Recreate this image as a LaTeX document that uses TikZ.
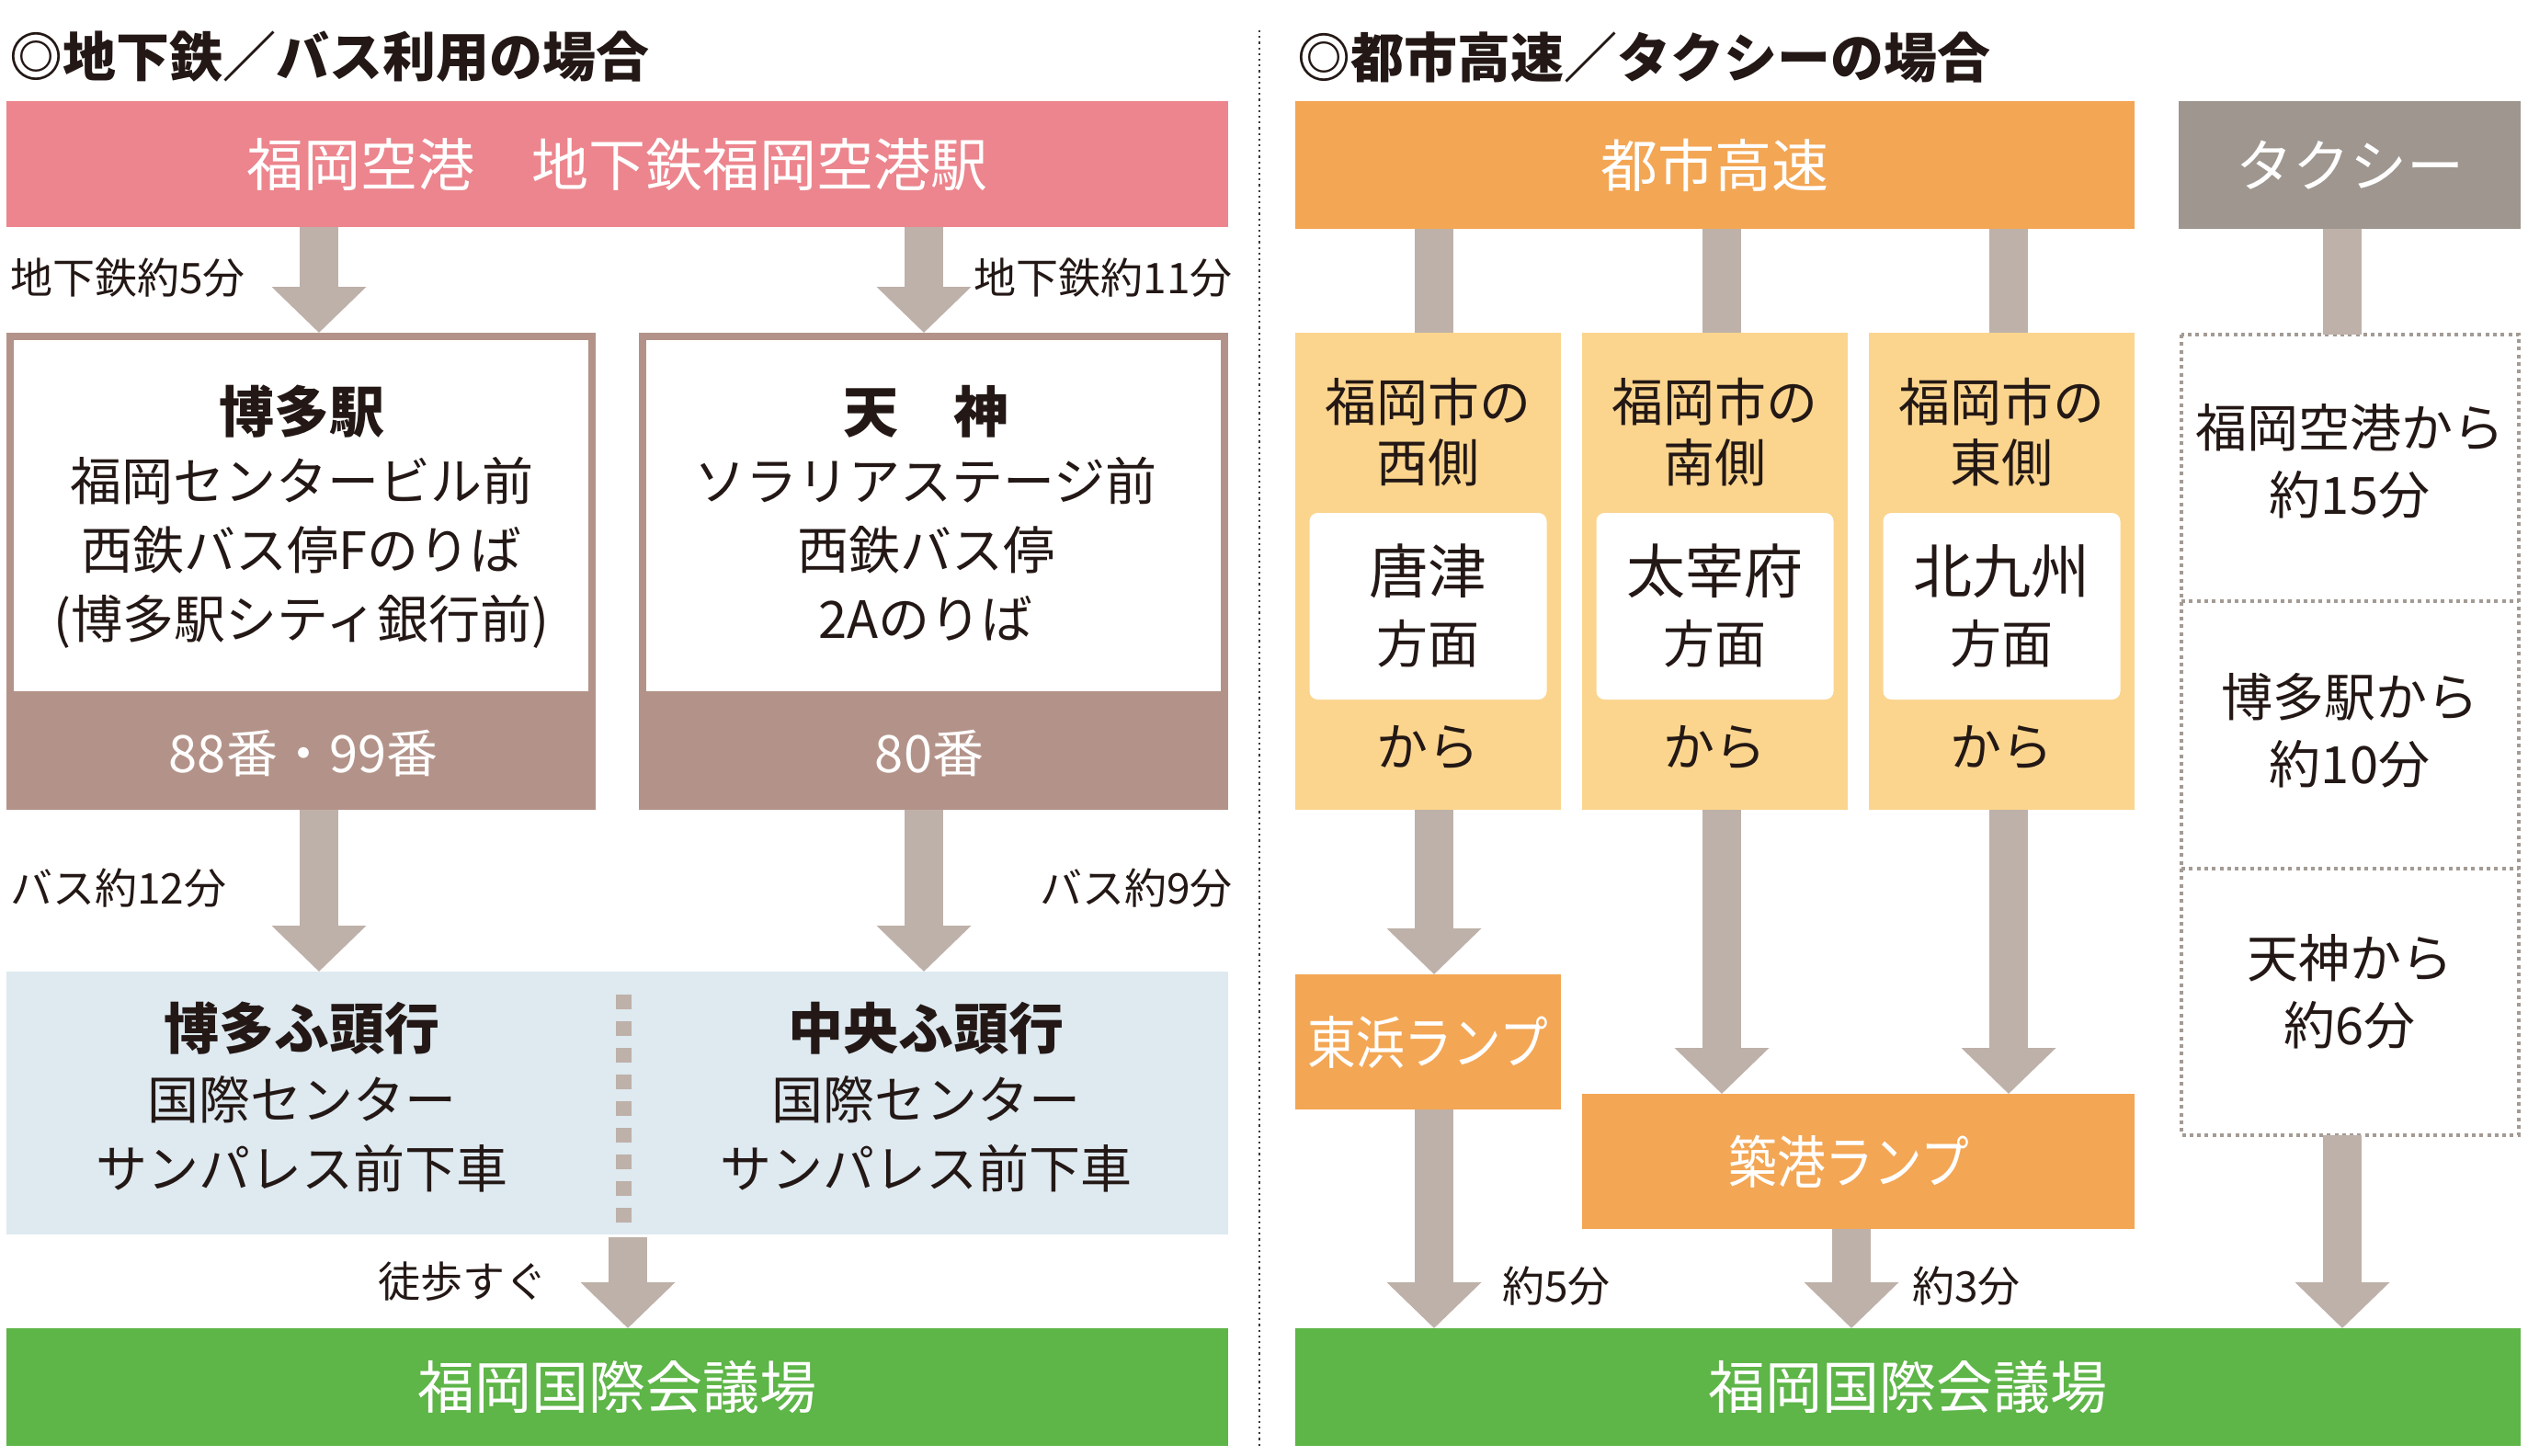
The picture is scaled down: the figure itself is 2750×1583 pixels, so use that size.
\documentclass[tikz,border=0pt]{standalone}
\usepackage{fontspec}
\setmainfont{Noto Sans CJK JP}
\usetikzlibrary{arrows.meta,calc}
\definecolor{pinkc}{HTML}{EC858D}
\definecolor{brownc}{HTML}{B39389}
\definecolor{arrowc}{HTML}{BEB1A9}
\definecolor{bluec}{HTML}{DEE9F0}
\definecolor{greenc}{HTML}{5EB548}
\definecolor{orangec}{HTML}{F3A654}
\definecolor{yellowc}{HTML}{FBD58E}
\definecolor{taxic}{HTML}{9E968F}
\definecolor{taxiline}{HTML}{A39B94}
\definecolor{textc}{HTML}{231815}
\definecolor{dotc}{HTML}{3A3A3A}
\begin{document}
\begin{tikzpicture}[x=1pt,y=-1pt,
  box/.style={inner sep=0pt, outer sep=0pt, anchor=north west, draw=none},
  fS/.style={inner sep=0pt, text=textc, font=\fontsize{46pt}{52pt}\selectfont, text height=40.5pt, text depth=5.5pt},
  fM/.style={inner sep=0pt, text=textc, font=\fontsize{56pt}{64pt}\selectfont, text height=49.3pt, text depth=6.7pt},
  fB/.style={inner sep=0pt, text=textc, font=\fontsize{60pt}{70pt}\selectfont\bfseries, text height=52.8pt, text depth=7.2pt},
  fK/.style={inner sep=0pt, text=textc, font=\fontsize{64pt}{72pt}\selectfont, text height=56.3pt, text depth=7.7pt},
  fT/.style={inner sep=0pt, text=textc, font=\fontsize{58pt}{64pt}\selectfont\bfseries, text height=51pt, text depth=7pt},
  fL/.style={inner sep=0pt, text=white, font=\fontsize{62pt}{70pt}\selectfont, text height=54.6pt, text depth=7.4pt},
  fW/.style={inner sep=0pt, text=white, font=\fontsize{56pt}{64pt}\selectfont, text height=49.3pt, text depth=6.7pt},
  arr/.style={draw=arrowc, line width=42pt, -{Triangle[width=100pt,length=50pt]}},
  stem/.style={draw=arrowc, line width=42pt},
  taxidash/.style={draw=taxiline, line width=4pt, dash pattern=on 4pt off 4.3pt}
]
\useasboundingbox[fill=white] (0,0) rectangle (2750,1583);

% ---------------- divider ----------------
\draw[dotc, line width=2.2pt, dash pattern=on 2.2pt off 4pt] (1370,33) -- (1370,1575);

% ================= LEFT =================
\node[fT, anchor=west] (tl) at (10,61) {◎地下鉄／バス利用の場合};

\node[box, fill=pinkc, minimum width=1329pt, minimum height=137pt] (air) at (7,110) {};
\node[fL] (airt) at (air.center) {福岡空港　地下鉄福岡空港駅};

% Hakata box
\node[box, fill=brownc, minimum width=641pt, minimum height=519pt] (hk) at (7,362) {};
\node[box, fill=white, minimum width=625pt, minimum height=382pt] (hkin) at (15,370) {};
\node[fB] (hk1) at (328,448) {博多駅};
\node[fM] (hk2) at (328,523) {福岡センタービル前};
\node[fM] (hk3) at (328,598) {西鉄バス停Fのりば};
\node[fM] (hk4) at (328,673) {(博多駅シティ銀行前)};
\node[fW] (hk5) at (330,819) {88番・99番};

% Tenjin box
\node[box, fill=brownc, minimum width=641pt, minimum height=519pt] (tj) at (695,362) {};
\node[box, fill=white, minimum width=625pt, minimum height=382pt] (tjin) at (703,370) {};
\node[fB] (tj1) at (1007,448) {天　神};
\node[fM] (tj2) at (1007,523) {ソラリアステージ前};
\node[fM] (tj3) at (1007,598) {西鉄バス停};
\node[fM] (tj4) at (1007,673) {2Aのりば};
\node[fW] (tj5) at (1011,819) {80番};

% blue box
\node[box, fill=bluec, minimum width=1329pt, minimum height=286pt] (blue) at (7,1057) {};
\draw[arrowc, line width=17pt, dash pattern=on 16pt off 13pt] (678.5,1082) -- (678.5,1335);
\node[fB] (bl1) at (328,1119) {博多ふ頭行};
\node[fM] (bl2) at (328,1196) {国際センター};
\node[fM] (bl3) at (328,1271) {サンパレス前下車};
\node[fB] (br1) at (1007,1119) {中央ふ頭行};
\node[fM] (br2) at (1007,1196) {国際センター};
\node[fM] (br3) at (1007,1271) {サンパレス前下車};

% green box left
\node[box, fill=greenc, minimum width=1329pt, minimum height=128pt] (gl) at (7,1445) {};
\node[fL] (glt) at (gl.center) {福岡国際会議場};

% arrows left
\coordinate (a1) at (347,0);
\coordinate (a2) at (1005,0);
\coordinate (a3) at (683,0);
\draw[arr] (a1 |- air.south) -- (a1 |- hk.north);
\draw[arr] (a2 |- air.south) -- (a2 |- tj.north);
\draw[arr] (a1 |- hk.south) -- (a1 |- blue.north);
\draw[arr] (a2 |- tj.south) -- (a2 |- blue.north);
\draw[arr] ($(a3 |- blue.south)+(0,3)$) -- (a3 |- gl.north);

% labels left
\node[fS, anchor=west] (l1) at (11,302) {地下鉄約5分};
\node[fS, anchor=east] (l2) at (1341,302) {地下鉄約11分};
\node[fS, anchor=west] (l3) at (11,966) {バス約12分};
\node[fS, anchor=east] (l4) at (1341,966) {バス約9分};
\node[fS, anchor=east] (l5) at (596,1394) {徒歩すぐ};

% ================= RIGHT =================
\node[fT, anchor=west] (tr) at (1411,62) {◎都市高速／タクシーの場合};

\node[box, fill=orangec, minimum width=913pt, minimum height=139pt] (hwy) at (1409,110) {};
\node[fL] (hwyt) at (hwy.center) {都市高速};
\node[box, fill=taxic, minimum width=372pt, minimum height=139pt] (taxi) at (2370,110) {};
\node[fL] (taxit) at (taxi.center) {タクシー};

% yellow boxes
\node[box, fill=yellowc, minimum width=289pt, minimum height=519pt] (y1) at (1409,362) {};
\node[box, fill=yellowc, minimum width=289pt, minimum height=519pt] (y2) at (1721,362) {};
\node[box, fill=yellowc, minimum width=289pt, minimum height=519pt] (y3) at (2033,362) {};
\node[box, fill=white, rounded corners=9pt, minimum width=258pt, minimum height=203pt] (w1) at (1424.5,558) {};
\node[box, fill=white, rounded corners=9pt, minimum width=258pt, minimum height=203pt] (w2) at (1736.5,558) {};
\node[box, fill=white, rounded corners=9pt, minimum width=258pt, minimum height=203pt] (w3) at (2048.5,558) {};

\node[fM] (y1a) at (1553.5,437) {福岡市の};
\node[fM] (y1b) at (1553.5,503) {西側};
\node[fK] (y1c) at (1553.5,621) {唐津};
\node[fM] (y1d) at (1553.5,700) {方面};
\node[fM] (y1e) at (1553.5,812) {から};

\node[fM] (y2a) at (1865.5,437) {福岡市の};
\node[fM] (y2b) at (1865.5,503) {南側};
\node[fK] (y2c) at (1865.5,621) {太宰府};
\node[fM] (y2d) at (1865.5,700) {方面};
\node[fM] (y2e) at (1865.5,812) {から};

\node[fM] (y3a) at (2177.5,437) {福岡市の};
\node[fM] (y3b) at (2177.5,503) {東側};
\node[fK] (y3c) at (2177.5,621) {北九州};
\node[fM] (y3d) at (2177.5,700) {方面};
\node[fM] (y3e) at (2177.5,812) {から};

% ramps
\node[box, fill=orangec, minimum width=289pt, minimum height=147pt] (hama) at (1409,1060) {};
\node[fL] (hamat) at (hama.center) {\scalebox{0.85}[1]{東浜ランプ}};
\node[box, fill=orangec, minimum width=601pt, minimum height=147pt] (chik) at (1721,1190) {};
\node[fL] (chikt) at ($(chik.center)+(-10,0)$) {\scalebox{0.85}[1]{築港ランプ}};

% taxi dashed box
\coordinate (tbnw) at (2373,364);
\coordinate (tbse) at (2740,1235);
\node[box, minimum width=367pt, minimum height=871pt] (tb) at (2373,364) {};
\draw[taxidash] (tbnw) rectangle (tbse);
\draw[taxidash] (2373,654) -- (2740,654);
\draw[taxidash] (2373,945) -- (2740,945);
\node[fM] (ta1) at (2556,465) {福岡空港から};
\node[fM] (ta2) at (2556,538) {約15分};
\node[fM] (ta3) at (2556,758) {博多駅から};
\node[fM] (ta4) at (2556,831) {約10分};
\node[fM] (ta5) at (2556,1042) {天神から};
\node[fM] (ta6) at (2556,1115) {約6分};

% green box right
\node[box, fill=greenc, minimum width=1333pt, minimum height=128pt] (gr) at (1409,1445) {};
\node[fL] (grt) at (gr.center) {福岡国際会議場};

% stems and arrows right
\coordinate (c1) at (1560,0);
\coordinate (c2) at (1873,0);
\coordinate (c3) at (2185,0);
\coordinate (c4) at (2014,0);
\coordinate (c5) at (2548,0);
\draw[stem] (c1 |- hwy.south) -- (c1 |- y1.north);
\draw[stem] (c2 |- hwy.south) -- (c2 |- y2.north);
\draw[stem] (c3 |- hwy.south) -- (c3 |- y3.north);
\draw[stem] (c5 |- taxi.south) -- (c5 |- tb.north);
\draw[arr] (c1 |- y1.south) -- (c1 |- hama.north);
\draw[arr] (c2 |- y2.south) -- (c2 |- chik.north);
\draw[arr] (c3 |- y3.south) -- (c3 |- chik.north);
\draw[arr] (c1 |- hama.south) -- (c1 |- gr.north);
\draw[arr] (c4 |- chik.south) -- (c4 |- gr.north);
\draw[arr] (c5 |- tb.south) -- (c5 |- gr.north);

\node[fS, anchor=west] (r1) at (1634,1399) {約5分};
\node[fS, anchor=west] (r2) at (2080,1399) {約3分};
\end{tikzpicture}
\end{document}
